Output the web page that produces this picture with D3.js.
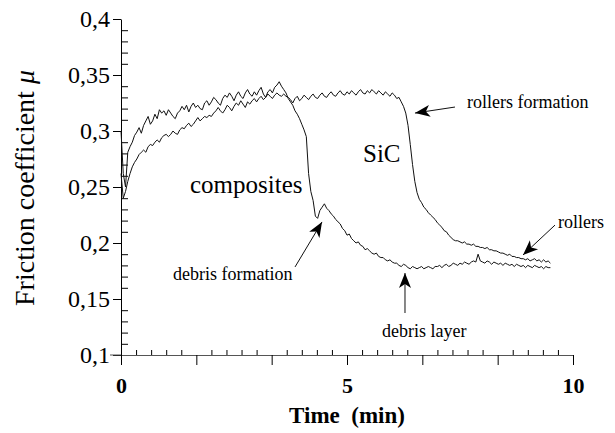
<!DOCTYPE html>
<html>
<head>
<meta charset="utf-8">
<script src="https://cdn.jsdelivr.net/npm/d3@7/dist/d3.min.js"></script>
<style>
  body { margin: 0; background: #fff; }
</style>
</head>
<body>
<svg id="svg1" width="615" height="433" font-family="'Liberation Serif'"></svg>
<script>
var serif = "'Liberation Serif'";

// time in minutes (sampled every 0.05 min)
var times = [0,0.05,0.1,0.15,0.2,0.25,0.3,0.35,0.4,0.45,0.5,0.55,0.6,0.65,0.7,0.75,0.8,0.85,0.9,0.95,
  1,1.05,1.1,1.15,1.2,1.25,1.3,1.35,1.4,1.45,1.5,1.55,1.6,1.65,1.7,1.75,1.8,1.85,1.9,1.95,
  2,2.05,2.1,2.15,2.2,2.25,2.3,2.35,2.4,2.45,2.5,2.55,2.6,2.65,2.7,2.75,2.8,2.85,2.9,2.95,
  3,3.05,3.1,3.15,3.2,3.25,3.3,3.35,3.4,3.45,3.5,3.55,3.6,3.65,3.7,3.75,3.8,3.85,3.9,3.95,
  4,4.05,4.1,4.15,4.2,4.25,4.3,4.35,4.4,4.45,4.5,4.55,4.6,4.65,4.7,4.75,4.8,4.85,4.9,4.95,
  5,5.05,5.1,5.15,5.2,5.25,5.3,5.35,5.4,5.45,5.5,5.55,5.6,5.65,5.7,5.75,5.8,5.85,5.9,5.95,
  6,6.05,6.1,6.15,6.2,6.25,6.3,6.35,6.4,6.45,6.5,6.55,6.6,6.65,6.7,6.75,6.8,6.85,6.9,6.95,
  7,7.05,7.1,7.15,7.2,7.25,7.3,7.35,7.4,7.45,7.5,7.55,7.6,7.65,7.7,7.75,7.8,7.85,7.9,7.95,
  8,8.05,8.1,8.15,8.2,8.25,8.3,8.35,8.4,8.45,8.5,8.55,8.6,8.65,8.7,8.75,8.8,8.85,8.9,8.95,
  9,9.05,9.1,9.15,9.2,9.25,9.3,9.35,9.4,9.45,9.5];

// composites friction coefficient
var composites = [0.300,0.262,0.250,0.281,0.286,0.290,0.296,0.299,0.303,0.298,0.305,0.309,0.313,0.306,0.309,0.315,0.311,0.319,0.316,0.318,
  0.314,0.319,0.316,0.313,0.311,0.316,0.318,0.322,0.319,0.323,0.317,0.322,0.325,0.321,0.323,0.320,0.319,0.325,0.327,0.323,
  0.326,0.330,0.328,0.325,0.323,0.329,0.332,0.330,0.334,0.331,0.327,0.332,0.335,0.331,0.329,0.334,0.337,0.333,0.331,0.335,
  0.332,0.336,0.339,0.333,0.330,0.335,0.337,0.334,0.339,0.341,0.344,0.340,0.337,0.334,0.329,0.326,0.323,0.318,0.315,0.311,
  0.306,0.301,0.295,0.262,0.246,0.238,0.224,0.222,0.229,0.232,0.235,0.231,0.229,0.226,0.224,0.221,0.219,0.217,0.213,0.211,
  0.207,0.208,0.204,0.202,0.200,0.201,0.198,0.197,0.194,0.195,0.193,0.191,0.190,0.191,0.188,0.187,0.187,0.185,0.184,0.185,
  0.183,0.182,0.182,0.180,0.179,0.181,0.180,0.178,0.177,0.179,0.178,0.177,0.178,0.179,0.177,0.178,0.179,0.178,0.177,0.179,
  0.179,0.180,0.178,0.180,0.181,0.179,0.180,0.182,0.181,0.180,0.182,0.181,0.183,0.182,0.181,0.183,0.184,0.183,0.190,0.184,
  0.183,0.182,0.184,0.183,0.181,0.183,0.182,0.181,0.182,0.180,0.182,0.181,0.180,0.181,0.179,0.181,0.180,0.179,0.180,0.178,
  0.180,0.179,0.178,0.180,0.179,0.178,0.179,0.177,0.179,0.178,0.178];

// SiC friction coefficient
var sic = [0.262,0.240,0.246,0.255,0.262,0.268,0.272,0.275,0.279,0.281,0.283,0.281,0.286,0.288,0.287,0.290,0.292,0.290,0.294,0.296,
  0.297,0.295,0.297,0.300,0.298,0.297,0.301,0.303,0.302,0.305,0.307,0.304,0.306,0.309,0.312,0.309,0.311,0.313,0.312,0.314,
  0.313,0.316,0.318,0.321,0.318,0.316,0.319,0.323,0.321,0.318,0.322,0.325,0.323,0.327,0.324,0.321,0.326,0.324,0.327,0.329,
  0.326,0.329,0.331,0.328,0.330,0.333,0.331,0.329,0.332,0.334,0.332,0.331,0.333,0.331,0.330,0.328,0.325,0.329,0.331,0.327,
  0.329,0.332,0.330,0.328,0.331,0.333,0.330,0.329,0.332,0.334,0.331,0.330,0.333,0.335,0.332,0.331,0.334,0.336,0.333,0.332,
  0.335,0.333,0.336,0.334,0.332,0.335,0.337,0.334,0.333,0.336,0.334,0.337,0.335,0.333,0.336,0.334,0.332,0.335,0.333,0.331,
  0.334,0.332,0.329,0.330,0.326,0.322,0.316,0.305,0.288,0.270,0.255,0.245,0.239,0.236,0.232,0.230,0.227,0.225,0.223,0.221,
  0.218,0.216,0.214,0.211,0.210,0.207,0.205,0.203,0.202,0.202,0.201,0.200,0.201,0.199,0.199,0.198,0.199,0.197,0.197,0.196,
  0.196,0.195,0.196,0.194,0.194,0.193,0.193,0.192,0.191,0.191,0.190,0.189,0.190,0.188,0.188,0.187,0.187,0.186,0.186,0.185,
  0.186,0.184,0.185,0.186,0.184,0.185,0.183,0.185,0.183,0.184,0.182];

var yTickLabels = ["0,1","0,15","0,2","0,25","0,3","0,35","0,4"];
var yTickValues = [0.1,0.15,0.2,0.25,0.3,0.35,0.4];
var xTickLabels = {0: "0", 5: "5", 10: "10"};

var svg = d3.select("#svg1");

var x = d3.scaleLinear().domain([0, 10]).range([121, 573]);
var y = d3.scaleLinear().domain([0.1, 0.4]).range([355, 19]);

// y axis : major ticks out, minor ticks in
var yMinor = d3.range(10, 41).map(function(d) { return d / 100; })
  .filter(function(d) { return Math.round(d * 100) % 5 != 0; });

svg.append("g")
  .attr("transform", "translate(" + x(0) + ",0)")
  .call(d3.axisLeft(y).tickValues(yMinor).tickSize(-7).tickFormat("").tickSizeOuter(0))
  .call(function(g) { g.select(".domain").remove(); });

var yAxis = svg.append("g")
  .attr("transform", "translate(" + x(0) + ",0)")
  .call(d3.axisLeft(y).tickValues(yTickValues).tickSize(8).tickPadding(3).tickSizeOuter(0)
    .tickFormat(function(d, i) { return yTickLabels[i]; }))
  .attr("font-family", serif)
  .attr("font-size", 24);

// x axis : major ticks (every 10/6 min) down, minor ticks up
var xMajor = d3.range(0, 7).map(function(i) { return i * 10 / 6; });
var xMinor = d3.range(0, 31).map(function(i) { return i / 3; })
  .filter(function(d, i) { return i % 5 != 0; });

svg.append("g")
  .attr("transform", "translate(0," + y(0.1) + ")")
  .call(d3.axisBottom(x).tickValues(xMinor).tickSize(-5).tickFormat("").tickSizeOuter(0))
  .call(function(g) { g.select(".domain").remove(); });

var xAxis = svg.append("g")
  .attr("transform", "translate(0," + y(0.1) + ")")
  .call(d3.axisBottom(x).tickValues(xMajor).tickSize(10).tickPadding(12).tickSizeOuter(0)
    .tickFormat(function(d) {
      var r = Math.round(d * 1000) / 1000;
      return xTickLabels[r] !== undefined ? xTickLabels[r] : "";
    }))
  .attr("font-family", serif)
  .attr("font-size", 22)
  .attr("font-weight", "bold");
xAxis.select(".domain").attr("stroke", "#555");

// small stub of the x axis left of the origin
svg.append("line")
  .attr("x1", x(0) - 11).attr("x2", x(0))
  .attr("y1", y(0.1)).attr("y2", y(0.1))
  .attr("stroke", "#555");

// curves
var line = d3.line()
  .x(function(d, i) { return x(times[i]); })
  .y(function(d) { return y(d); });

svg.append("path").datum(sic)
  .attr("d", line).attr("fill", "none").attr("stroke", "#111").attr("stroke-width", 1);
svg.append("path").datum(composites)
  .attr("d", line).attr("fill", "none").attr("stroke", "#111").attr("stroke-width", 1);

// axis titles
svg.append("text")
  .attr("x", x(5)).attr("y", 423)
  .attr("text-anchor", "middle")
  .attr("font-family", serif)
  .attr("font-size", 23).attr("font-weight", "bold")
  .attr("xml:space", "preserve")
  .style("white-space", "pre")
  .text("Time  (min)");

var yt = svg.append("text")
  .attr("transform", "translate(34," + 188 + ") rotate(-90)")
  .attr("text-anchor", "middle")
  .attr("font-family", serif)
  .attr("font-size", 28);
yt.append("tspan").text("Friction coefficient ");
yt.append("tspan").attr("font-style", "italic").text("\u03bc");

// curve labels
svg.append("text").attr("x", x(1.527)).attr("y", y(0.2446))
  .attr("font-family", serif).attr("font-size", 25).text("composites");
svg.append("text").attr("x", x(5.354)).attr("y", y(0.2723))
  .attr("font-family", serif).attr("font-size", 25).text("SiC");

// annotations with arrows
var annoText = ["rollers formation", "rollers", "debris formation", "debris layer"];
var annoAt = [[7.655, 0.3205], [9.668, 0.2134], [1.15, 0.167], [5.774, 0.116]];
var arrowFrom = [[7.389, 0.3214], [9.602, 0.216], [3.85, 0.1786], [6.283, 0.1375]];
var arrowTo = [[6.504, 0.316], [8.894, 0.1893], [4.447, 0.2188], [6.283, 0.1732]];

annoText.forEach(function(t, i) {
  svg.append("text")
    .attr("x", x(annoAt[i][0])).attr("y", y(annoAt[i][1]))
    .attr("font-family", serif).attr("font-size", 18).text(t);

  var x1 = x(arrowFrom[i][0]), y1 = y(arrowFrom[i][1]);
  var x2 = x(arrowTo[i][0]), y2 = y(arrowTo[i][1]);
  var ang = Math.atan2(y2 - y1, x2 - x1) * 180 / Math.PI;
  svg.append("line")
    .attr("x1", x1).attr("y1", y1).attr("x2", x2).attr("y2", y2)
    .attr("stroke", "#111").attr("stroke-width", 1);
  svg.append("path")
    .attr("d", "M0,0 L-15,-6 L-11,0 L-15,6 Z")
    .attr("transform", "translate(" + x2 + "," + y2 + ") rotate(" + ang + ")")
    .attr("fill", "#000");
});
</script>
</body>
</html>
